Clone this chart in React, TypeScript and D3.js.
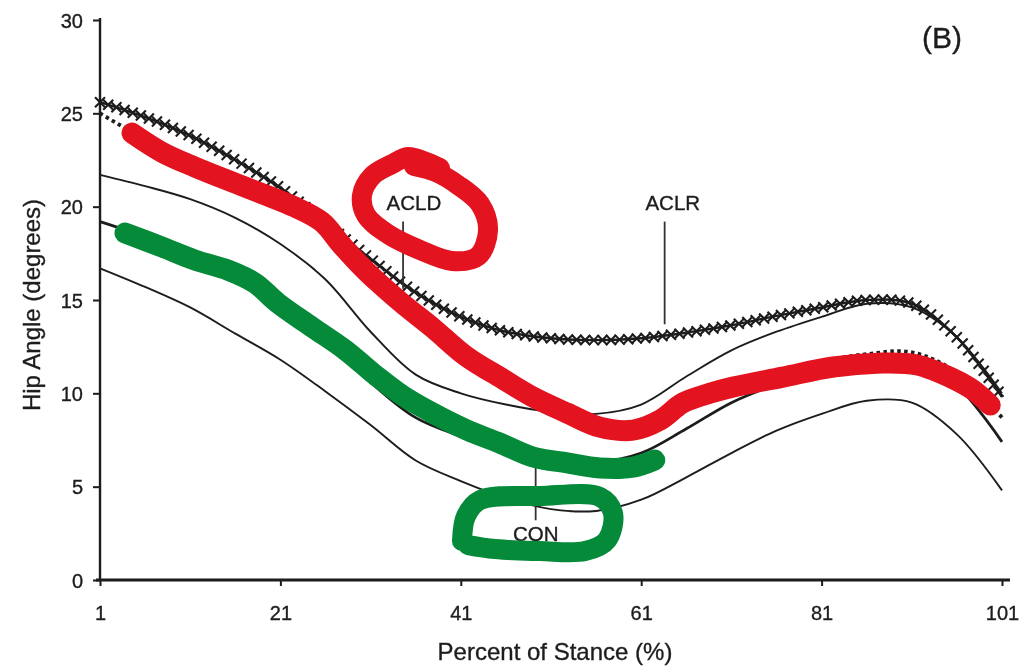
import React, { useEffect, useRef } from "react";
import * as d3 from "d3";

// Percent of stance at which each curve is sampled
const stance = [1, 6, 11, 16, 21, 26, 31, 36, 41, 46, 51, 56, 61, 66, 71, 76, 81, 86, 91, 96, 101];

// Hip angle (degrees) per group
const aclr = [25.6, 24.8, 23.8, 22.5, 21.0, 19.1, 17.2, 15.4, 14.1, 13.3, 12.95, 12.85, 12.95, 13.25, 13.65, 14.15, 14.6, 15.0, 14.8, 13.0, 9.8];
const acld = [25.0, 23.6, 22.3, 21.2, 20.2, 18.7, 16.4, 14.3, 12.3, 10.7, 9.4, 8.4, 8.3, 9.5, 10.5, 11.1, 11.7, 12.1, 12.2, 11.1, 8.7];
const conMean = [19.2, 18.4, 17.5, 16.3, 14.9, 13.1, 10.6, 8.7, 7.7, 6.9, 6.4, 6.3, 6.8, 8.1, 9.5, 10.5, 11.4, 11.9, 11.8, 10.4, 7.4];
const conUpper = [21.7, 21.1, 20.4, 19.4, 18.0, 16.1, 13.3, 11.0, 10.0, 9.4, 9.0, 8.9, 9.4, 10.9, 12.3, 13.3, 14.1, 14.8, 14.6, 13.0, 10.0];
const conLower = [16.7, 15.7, 14.6, 13.2, 11.8, 10.1, 8.3, 6.4, 5.3, 4.4, 3.8, 3.7, 4.3, 5.5, 6.8, 8.0, 8.9, 9.6, 9.5, 7.8, 4.8];

// Axis ticks
const xTicks = [1, 21, 41, 61, 81, 101];
const yTicks = [0, 5, 10, 15, 20, 25, 30];

// Curve labels: [name, stance, angle] and their leader lines [stance, from, to]
const labels: [string, number, number][] = [
  ["ACLD", 35.8, 20.2],
  ["ACLR", 64.5, 20.2],
  ["CON", 49.3, 2.5],
];
const leaders: [number, number, number][] = [
  [34.6, 19.2, 15.6],
  [63.6, 19.2, 13.7],
  [49.3, 6.4, 3.2],
];

// Hand-drawn highlight marks, in chart units [stance %, degrees]
const redTrace: [number, number][] = [
  [4.55, 23.94], [7.87, 22.92], [11.53, 22.12], [17.08, 21.05], [22.6, 19.98], [25.6, 19.18],
  [27.8, 17.94], [30.4, 16.6], [34.3, 14.9], [37.9, 13.5], [41.7, 11.94], [45.3, 10.87],
  [49.0, 9.8], [52.8, 8.94], [56.4, 8.19], [60.1, 8.03], [63.1, 8.57], [65.6, 9.48],
  [68.6, 10.0], [71.2, 10.34], [76.7, 10.87], [82.3, 11.41], [87.8, 11.62], [91.6, 11.52],
  [95.2, 10.87], [97.8, 10.18], [99.7, 9.37],
];
const greenTrace: [number, number][] = [
  [3.77, 18.59], [7.87, 17.84], [11.53, 17.14], [15.19, 16.6], [18.2, 15.9], [20.7, 14.84],
  [24.5, 13.55], [28.2, 12.32], [31.8, 10.87], [34.8, 9.8], [37.9, 8.94], [41.7, 8.03],
  [45.3, 7.34], [49.0, 6.59], [52.8, 6.27], [56.4, 6.0], [60.1, 6.05], [62.5, 6.43],
];
const acldLoop: [number, number][] = [
  [38.69, 22.07], [36.92, 22.44], [35.15, 22.66], [33.37, 22.28], [31.16, 21.64], [30.05, 20.62],
  [30.49, 19.55], [32.93, 18.53], [36.48, 17.68], [40.02, 17.09], [42.91, 17.35], [44.02, 18.75],
  [43.13, 20.14], [40.69, 21.16], [38.25, 21.85], [35.81, 22.18],
];
const conLoop: [number, number][] = [
  [41.13, 2.09], [41.58, 3.43], [43.13, 4.28], [49.78, 4.5], [56.43, 4.45], [57.87, 3.59],
  [57.21, 2.14], [54.77, 1.55], [49.78, 1.55], [44.79, 1.66], [41.8, 1.87],
];

const W = 1032;
const H = 668;
const FONT = "'Liberation Sans', Arial, Helvetica, sans-serif";
const INK = "#1d1d1d";
const RED = "#e3131f";
const GREEN = "#058a39";

export default function App() {
  const ref = useRef<SVGSVGElement>(null);

  useEffect(() => {
    const svg = d3.select(ref.current);
    svg.selectAll("*").remove();

    const x = d3.scaleLinear().domain([1, 101]).range([100, 1002]);
    const y = d3.scaleLinear().domain([0, 30]).range([580, 20]);

    const defs = svg.append("defs");
    defs
      .append("filter")
      .attr("id", "soft")
      .attr("x", "-2%")
      .attr("y", "-2%")
      .attr("width", "104%")
      .attr("height", "104%")
      .append("feGaussianBlur")
      .attr("stdDeviation", 0.6);

    svg.append("rect").attr("width", W).attr("height", H).attr("fill", "#fff");

    const base = svg.append("g").attr("filter", "url(#soft)");

    const textStyle = (sel: any, size: number) =>
      sel
        .attr("font-family", FONT)
        .attr("font-size", size)
        .attr("fill", INK)
        .attr("stroke", INK)
        .attr("stroke-width", 0.35);

    // Axes
    const gx = base
      .append("g")
      .attr("transform", `translate(0,${y(0)})`)
      .call(d3.axisBottom(x).tickValues(xTicks).tickSize(6).tickSizeOuter(0).tickPadding(8));
    gx.select(".domain").remove();
    gx.selectAll(".tick line").attr("stroke", INK).attr("stroke-width", 2);
    textStyle(gx.selectAll(".tick text"), 20).attr("y", 40).attr("dy", 0);

    const gy = base
      .append("g")
      .attr("transform", `translate(${x(1)},0)`)
      .call(d3.axisLeft(y).tickValues(yTicks).tickSize(7).tickSizeOuter(0).tickPadding(10));
    gy.select(".domain").remove();
    gy.selectAll(".tick line").attr("stroke", INK).attr("stroke-width", 2);
    textStyle(gy.selectAll(".tick text"), 20).attr("dy", "0.35em");

    base
      .append("line")
      .attr("x1", x(1))
      .attr("x2", x(1))
      .attr("y1", y(30) - 2)
      .attr("y2", y(0) + 1)
      .attr("stroke", INK)
      .attr("stroke-width", 2.4);
    base
      .append("line")
      .attr("x1", x(1) - 4)
      .attr("x2", x(101) + 8)
      .attr("y1", y(0))
      .attr("y2", y(0))
      .attr("stroke", INK)
      .attr("stroke-width", 3);

    // Axis titles
    textStyle(base.append("text"), 24)
      .attr("x", 555)
      .attr("y", 660)
      .attr("text-anchor", "middle")
      .text("Percent of Stance (%)");
    textStyle(base.append("text"), 24)
      .attr("transform", "translate(40,305) rotate(-90)")
      .attr("text-anchor", "middle")
      .text("Hip Angle (degrees)");

    textStyle(base.append("text"), 30)
      .attr("x", 942)
      .attr("y", 48)
      .attr("text-anchor", "middle")
      .text("(B)");

    const line = d3
      .line<[number, number]>()
      .x((d) => x(d[0]))
      .y((d) => y(d[1]))
      .curve(d3.curveCatmullRom.alpha(0.5));

    const series = (vals: number[]) => d3.zip(stance, vals) as [number, number][];

    // CON mean ± SD
    [conUpper, conLower].forEach((vals) => {
      base
        .append("path")
        .attr("d", line(series(vals)))
        .attr("fill", "none")
        .attr("stroke", INK)
        .attr("stroke-width", 1.9);
    });
    base
      .append("path")
      .attr("d", line(series(conMean)))
      .attr("fill", "none")
      .attr("stroke", INK)
      .attr("stroke-width", 2.7);

    // ACLD (dashed)
    base
      .append("path")
      .attr("d", line(series(acld)))
      .attr("fill", "none")
      .attr("stroke", INK)
      .attr("stroke-width", 3.8)
      .attr("stroke-dasharray", "3.5,3.4");

    // ACLR (line with x markers)
    const aclrPath = base
      .append("path")
      .attr("d", line(series(aclr)))
      .attr("fill", "none")
      .attr("stroke", INK)
      .attr("stroke-width", 2.4);
    const node = aclrPath.node() as SVGPathElement;
    const total = node.getTotalLength();
    const marks = d3.range(0, total + 0.01, 8.6).map((l) => node.getPointAtLength(l));
    base
      .append("g")
      .selectAll("path")
      .data(marks)
      .join("path")
      .attr("transform", (p) => `translate(${p.x},${p.y})`)
      .attr("d", "M-5,-5L5,5M-5,5L5,-5")
      .attr("stroke", INK)
      .attr("stroke-width", 2.1)
      .attr("fill", "none");

    // Curve labels and leaders
    base
      .selectAll("line.leader")
      .data(leaders)
      .join("line")
      .attr("class", "leader")
      .attr("x1", (d) => x(d[0]))
      .attr("x2", (d) => x(d[0]))
      .attr("y1", (d) => y(d[1]))
      .attr("y2", (d) => y(d[2]))
      .attr("stroke", "#333")
      .attr("stroke-width", 1.8);
    textStyle(
      base.selectAll("text.curve-label").data(labels).join("text").attr("class", "curve-label"),
      20.5
    )
      .attr("x", (d: any) => x(d[1]))
      .attr("y", (d: any) => y(d[2]))
      .attr("dy", "0.36em")
      .attr("text-anchor", "middle")
      .text((d: any) => d[0]);

    // Highlight strokes
    const pen = d3
      .line<[number, number]>()
      .x((d) => x(d[0]))
      .y((d) => y(d[1]))
      .curve(d3.curveCatmullRom.alpha(0.5));

    const marker = svg
      .append("g")
      .attr("fill", "none")
      .attr("stroke-linecap", "round")
      .attr("stroke-linejoin", "round");
    marker.append("path").attr("d", pen(redTrace)).attr("stroke", RED).attr("stroke-width", 21);
    marker.append("path").attr("d", pen(greenTrace)).attr("stroke", GREEN).attr("stroke-width", 21);
    marker.append("path").attr("d", pen(acldLoop)).attr("stroke", RED).attr("stroke-width", 20);
    marker.append("path").attr("d", pen(conLoop)).attr("stroke", GREEN).attr("stroke-width", 20);
  }, []);

  return (
    <svg
      ref={ref}
      width={W}
      height={H}
      viewBox={`0 0 ${W} ${H}`}
      style={{ position: "absolute", left: 0, top: 0, display: "block" }}
    />
  );
}
